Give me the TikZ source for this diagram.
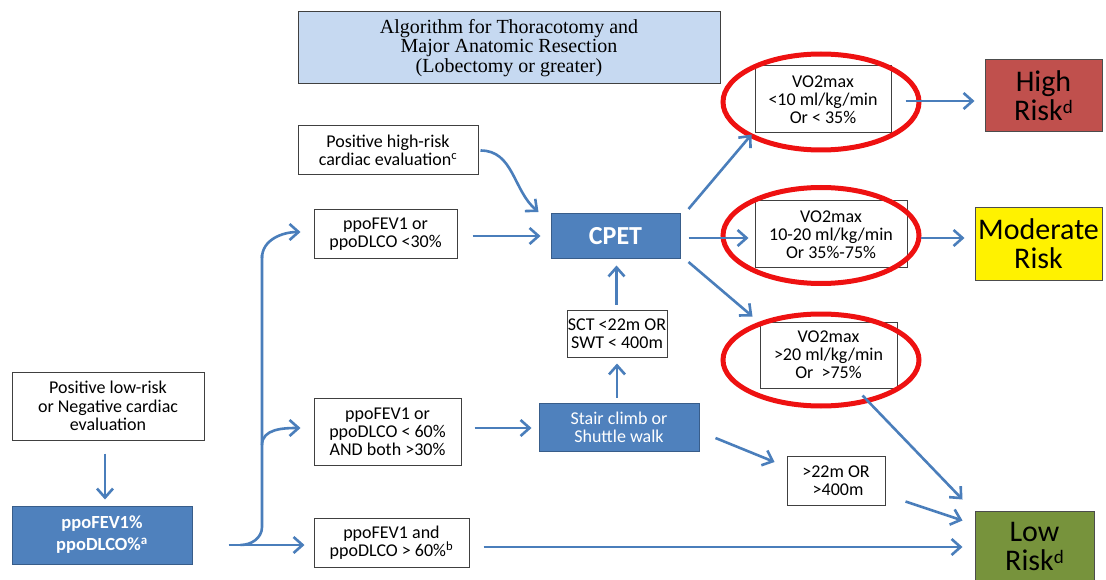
\documentclass[tikz,border=0pt]{standalone}
\usepackage{fontspec}
\setmainfont{Carlito}
\newfontfamily\titlefont{Liberation Serif}
\usetikzlibrary{arrows.meta}
\definecolor{bluefill}{HTML}{4F81BD}
\definecolor{blueedge}{HTML}{385D8A}
\definecolor{arrowblue}{HTML}{4A7EBB}
\definecolor{titlefill}{HTML}{C6D9F1}
\definecolor{highfill}{HTML}{C0504D}
\definecolor{lowfill}{HTML}{77933C}
\definecolor{ringred}{HTML}{EE1111}
\newcommand{\risksup}[1]{\raisebox{7pt}{\fontsize{19}{19}\selectfont #1}}
\tikzset{
  box/.style={draw=black!75, line width=1pt, fill=white, inner sep=0pt, align=center,
    font=\fontsize{18}{18.2}\selectfont},
  bluebox/.style={box, draw=blueedge, fill=bluefill, text=white},
  riskbox/.style={draw=black!70, line width=1pt, inner sep=0pt, align=center,
    font=\fontsize{30}{29}\selectfont},
  conn/.style={draw=arrowblue, line width=2.6pt, -{Straight Barb[length=9pt,width=16pt,line width=2.6pt]}},
  plainconn/.style={draw=arrowblue, line width=2.6pt},
  ring/.style={draw=ringred, line width=5pt},
}
\begin{document}
\begin{tikzpicture}[x=1pt,y=-1pt]
\useasboundingbox (0,0) rectangle (1106,580);
% nodes
\node[box, fill=titlefill, minimum width=422pt, minimum height=72pt,
  font=\titlefont\fontsize{20}{19.5}\selectfont] (title) at (509,48)
  {Algorithm for Thoracotomy and\\Major Anatomic Resection\\(Lobectomy or greater)};
\node[box, minimum width=180pt, minimum height=49pt] (hrc) at (388,150.5)
  {Positive high-risk\\cardiac evaluation\textsuperscript{c}};
\node[box, minimum width=143pt, minimum height=49pt] (p30) at (385.5,234.5)
  {ppoFEV1 or\\ppoDLCO <30\%};
\node[bluebox, minimum width=129pt, minimum height=45pt, font=\bfseries\fontsize{26}{28}\selectfont] (cpet) at (615.5,236.5) {CPET};
\node[box, minimum width=136pt, minimum height=67pt] (v1) at (823,99.5)
  {VO2max\\<10 ml/kg/min\\Or < 35\%};
\node[box, minimum width=152pt, minimum height=67pt] (v2) at (831,234.5)
  {VO2max\\10-20 ml/kg/min\\Or 35\%-75\%};
\node[box, minimum width=137pt, minimum height=66pt] (v3) at (828.5,355)
  {VO2max\\>20 ml/kg/min\\Or\ \ >75\%};
\node[riskbox, fill=highfill, minimum width=117pt, minimum height=72pt] (high) at (1043.5,96)
  {High\\Risk\risksup{d}};
\node[riskbox, fill=yellow, minimum width=127pt, minimum height=72pt] (mod) at (1038.5,244)
  {Moderate\\Risk};
\node[riskbox, fill=lowfill, minimum width=119pt, minimum height=70pt] (low) at (1034.5,546)
  {Low\\Risk\risksup{d}};
\node[box, minimum width=100pt, minimum height=47pt] (sct) at (617,333.5)
  {SCT <22m OR\\SWT < 400m};
\node[bluebox, minimum width=160pt, minimum height=48pt] (stair) at (619,427)
  {Stair climb or\\Shuttle walk};
\node[box, minimum width=98pt, minimum height=49pt] (g22) at (836,480.5)
  {>22m OR\\\ >400m};
\node[box, minimum width=192pt, minimum height=68pt] (plr) at (108,406)
  {Positive low-risk\\or Negative cardiac\\evaluation};
\node[bluebox, minimum width=180pt, minimum height=58pt, font=\bfseries\fontsize{18.5}{22}\selectfont] (pp) at (102,535)
  {ppoFEV1\%\\ppoDLCO\%\textsuperscript{a}};
\node[box, minimum width=147pt, minimum height=67pt] (p60) at (387.5,431.5)
  {ppoFEV1 or\\ppoDLCO < 60\%\\AND both >30\%};
\node[box, minimum width=155pt, minimum height=49pt] (p60b) at (391.5,542.5)
  {ppoFEV1 and\\ppoDLCO > 60\%\textsuperscript{b}};
% red rings
\draw[ring] (821,102) ellipse [x radius=98, y radius=48];
\draw[ring] (821,235.5) ellipse [x radius=98, y radius=48];
\draw[ring] (821,360) ellipse [x radius=98, y radius=46];
% connectors
\draw[conn] ([xshift=-3pt,yshift=-13pt]plr.south) -- ([xshift=3pt,yshift=6pt]pp.north);
\draw[conn] ([xshift=36pt,yshift=-10pt]pp.east) -- ([xshift=-9pt,yshift=-2.5pt]p60b.west);
\draw[plainconn] ([xshift=48pt,yshift=-10pt]pp.east) to[out=0,in=-90] (262,527) -- (262,255);
\draw[conn] (262,258) to[out=90,in=180] ([xshift=-13pt,yshift=2.5pt]p30.west);
\draw[conn] (262,445) to[out=90,in=180] ([xshift=-13pt,yshift=3.5pt]p60.west);
\draw[conn] ([xshift=15pt,yshift=-1.5pt]p30.east) -- ([xshift=-10pt,yshift=0.5pt]cpet.west);
\draw[conn] ([xshift=2pt]hrc.east) to[out=0,in=140] ([xshift=-12pt,yshift=24.5pt]cpet.west);
\draw[conn] ([xshift=8pt,yshift=27.5pt]cpet.east) -- ([xshift=-3pt,yshift=-1pt]v1.south west);
\draw[conn] ([xshift=8pt,yshift=-1.5pt]cpet.east) -- ([xshift=-6pt,yshift=-3.5pt]v2.west);
\draw[conn] ([xshift=8pt,yshift=-25.5pt]cpet.east) -- ([xshift=-7pt,yshift=5pt]v3.north west);
\draw[conn] ([xshift=14pt,yshift=-1.5pt]v1.east) -- ([xshift=-10pt,yshift=-5pt]high.west);
\draw[conn] ([xshift=13pt,yshift=-3.5pt]v2.east) -- ([xshift=-10pt,yshift=6pt]mod.west);
\draw[conn] ([xshift=-35pt,yshift=-7pt]v3.south east) -- ([xshift=-12pt,yshift=11pt]low.north west);
\draw[conn] ([xshift=-0.5pt,yshift=5pt]sct.north) -- ([xshift=1pt,yshift=-6pt]cpet.south);
\draw[conn] ([xshift=-2pt,yshift=5pt]stair.north) -- ([yshift=-6pt]sct.south);
\draw[conn] ([xshift=13pt,yshift=3.5pt]p60.east) -- ([xshift=-7pt,yshift=-1pt]stair.west);
\draw[conn] ([xshift=16pt,yshift=-11pt]stair.east) -- ([xshift=-12pt,yshift=18.5pt]g22.west);
\draw[conn] ([xshift=20pt,yshift=4pt]g22.south east) -- ([xshift=-12pt,yshift=-10pt]low.north west);
\draw[conn] ([xshift=14pt,yshift=-4.5pt]p60b.east) -- ([xshift=-12pt,yshift=-1pt]low.west);
\end{tikzpicture}
\end{document}
